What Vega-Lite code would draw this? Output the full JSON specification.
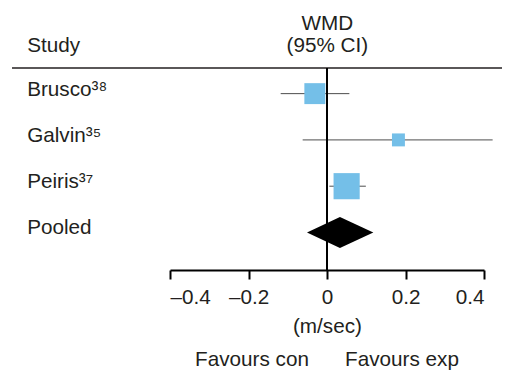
{
  "$schema": "https://vega.github.io/schema/vega-lite/v6.json",
  "width": 314,
  "height": 202,
  "autosize": {"type": "none"},
  "padding": {"left": 170, "top": 68, "right": 21, "bottom": 102},
  "config": {
    "view": {"stroke": null},
    "font": "Liberation Sans",
    "text": {"font": "Liberation Sans", "fontSize": 20.7, "color": "#231f20"}
  },
  "data": {"values": [{}]},
  "datasets": {
    "studies": [
      {"study": "Brusco³⁸", "kind": "study", "row": 1, "wmd": -0.031, "lo": -0.118, "hi": 0.057, "weight": 34},
      {"study": "Galvin³⁵", "kind": "study", "row": 2, "wmd": 0.182, "lo": -0.062, "hi": 0.422, "weight": 13},
      {"study": "Peiris³⁷", "kind": "study", "row": 3, "wmd": 0.05, "lo": 0.006, "hi": 0.099, "weight": 53},
      {"study": "Pooled", "kind": "pooled", "row": 4, "wmd": 0.033, "lo": -0.051, "hi": 0.118}
    ]
  },
  "layer": [
    {
      "mark": {"type": "rule", "strokeWidth": 1.4, "color": "#231f20"},
      "encoding": {
        "x": {"datum": -0.8025, "type": "quantitative",
              "scale": {"domain": [-0.4, 0.4], "nice": false, "zero": false},
              "axis": {
                "values": [-0.4, -0.2, 0, 0.2, 0.4],
                "labelExpr": "datum.value == 0 ? '0' : (datum.value < 0 ? '–' : '') + format(abs(datum.value), '.1f')",
                "domainColor": "black", "domainWidth": 2,
                "tickColor": "black", "tickWidth": 2, "tickSize": 9,
                "labelFontSize": 20.7, "labelFont": "Liberation Sans", "labelColor": "#231f20",
                "labelPadding": 24, "labelBaseline": "alphabetic", "labelOverlap": false,
                "title": null, "grid": false
              }},
        "x2": {"datum": 0.4459},
        "y": {"datum": 0.4462, "type": "quantitative",
              "scale": {"domain": [0.4462, 4.811], "nice": false, "zero": false, "reverse": true},
              "axis": null}
      }
    },
    {
      "data": {"name": "studies"},
      "transform": [{"filter": "datum.kind == 'study'"}],
      "mark": {"type": "rule", "strokeWidth": 1, "color": "#4d4d4d"},
      "encoding": {
        "x": {"field": "lo", "type": "quantitative"},
        "x2": {"field": "hi"},
        "y": {"field": "row", "type": "quantitative"}
      }
    },
    {
      "mark": {"type": "rule", "strokeWidth": 2, "color": "black"},
      "encoding": {
        "x": {"datum": 0, "type": "quantitative"}
      }
    },
    {
      "data": {"name": "studies"},
      "transform": [{"filter": "datum.kind == 'study'"}],
      "mark": {"type": "square", "filled": true, "opacity": 1, "color": "#74bfe8"},
      "encoding": {
        "x": {"field": "wmd", "type": "quantitative"},
        "y": {"field": "row", "type": "quantitative"},
        "size": {"field": "weight", "type": "quantitative",
                 "scale": {"domain": [0, 100], "range": [0, 1290]}, "legend": null}
      }
    },
    {
      "data": {"name": "studies"},
      "transform": [
        {"filter": "datum.kind == 'pooled'"},
        {"fold": ["lo", "wmd", "hi"], "as": ["vertex", "xv"]},
        {"calculate": "datum.vertex == 'wmd' ? datum.row - 0.335 : datum.row", "as": "top"},
        {"calculate": "datum.vertex == 'wmd' ? datum.row + 0.335 : datum.row", "as": "bottom"}
      ],
      "mark": {"type": "area", "color": "black", "opacity": 1},
      "encoding": {
        "x": {"field": "xv", "type": "quantitative"},
        "y": {"field": "top", "type": "quantitative"},
        "y2": {"field": "bottom"}
      }
    },
    {
      "data": {"name": "studies"},
      "mark": {"type": "text", "align": "left", "baseline": "alphabetic", "dy": 2},
      "encoding": {
        "x": {"datum": -0.764, "type": "quantitative"},
        "y": {"field": "row", "type": "quantitative"},
        "text": {"field": "study"}
      }
    },
    {
      "mark": {"type": "text", "align": "left", "baseline": "alphabetic"},
      "encoding": {
        "x": {"datum": -0.764, "type": "quantitative"},
        "y": {"datum": 0.1005, "type": "quantitative"},
        "text": {"value": "Study"}
      }
    },
    {
      "mark": {"type": "text", "align": "center", "baseline": "alphabetic"},
      "encoding": {
        "x": {"datum": 0.001, "type": "quantitative"},
        "y": {"datum": -0.3747, "type": "quantitative"},
        "text": {"value": "WMD"}
      }
    },
    {
      "mark": {"type": "text", "align": "center", "baseline": "alphabetic"},
      "encoding": {
        "x": {"datum": 0.001, "type": "quantitative"},
        "y": {"datum": 0.1005, "type": "quantitative"},
        "text": {"value": "(95% CI)"}
      }
    },
    {
      "mark": {"type": "text", "align": "center", "baseline": "alphabetic"},
      "encoding": {
        "x": {"datum": 0.001, "type": "quantitative"},
        "y": {"datum": 6.172, "type": "quantitative"},
        "text": {"value": "(m/sec)"}
      }
    },
    {
      "mark": {"type": "text", "align": "right", "baseline": "alphabetic"},
      "encoding": {
        "x": {"datum": -0.046, "type": "quantitative"},
        "y": {"datum": 6.885, "type": "quantitative"},
        "text": {"value": "Favours con"}
      }
    },
    {
      "mark": {"type": "text", "align": "left", "baseline": "alphabetic"},
      "encoding": {
        "x": {"datum": 0.046, "type": "quantitative"},
        "y": {"datum": 6.885, "type": "quantitative"},
        "text": {"value": "Favours exp"}
      }
    }
  ]
}
